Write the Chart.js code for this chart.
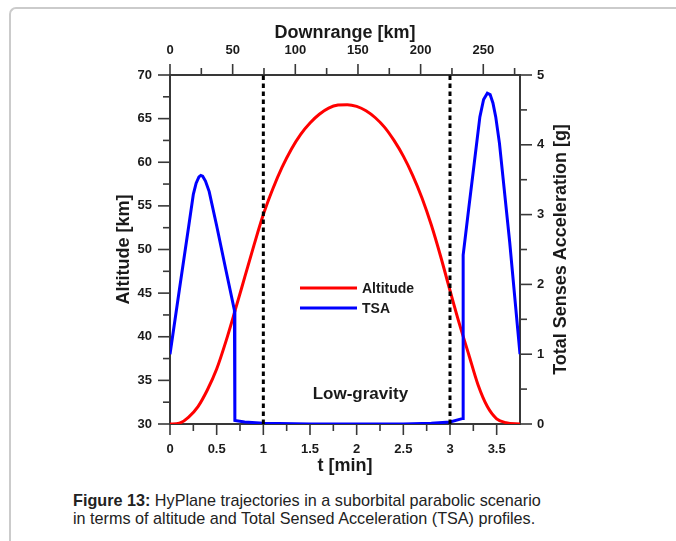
<!DOCTYPE html>
<html>
<head>
<meta charset="utf-8">
<script src="https://cdn.jsdelivr.net/npm/chart.js@4.4.0/dist/chart.umd.min.js"></script>
<style>
html, body { margin: 0; padding: 0; background: #fff; width: 676px; height: 541px; overflow: hidden; }
#frame { position: absolute; left: 9px; top: 7px; width: 720px; height: 600px; border-left: 2px solid #cbcbcb; border-top: 2px solid #cbcbcb; border-top-left-radius: 7px; }
#wrap { position: absolute; left: 0; top: 0; width: 676px; height: 480px; }
#cap { position: absolute; left: 73px; top: 492px; font: 16.2px "Liberation Sans", Arial, sans-serif; line-height: 17.5px; color: #222; white-space: nowrap; }
</style>
</head>
<body>
<div id="frame"></div>
<div id="wrap"><canvas id="chart" width="676" height="480"></canvas></div>
<div id="cap"><b>Figure 13:</b> HyPlane trajectories in a suborbital parabolic scenario<br>in terms of altitude and Total Sensed Acceleration (TSA) profiles.</div>
<script>
// altitude profile, t [min] vs km
const altT  = [0, 0.1, 0.2, 0.3, 0.4, 0.5, 0.6, 0.7, 0.8, 0.9, 1.0, 1.1, 1.2, 1.3, 1.4, 1.5, 1.6, 1.7, 1.8, 1.9,
               2.0, 2.1, 2.2, 2.3, 2.4, 2.5, 2.6, 2.7, 2.8, 2.9, 3.0, 3.1, 3.2, 3.3, 3.4, 3.5, 3.6, 3.75];
const altKm = [30, 30.1, 30.8, 32.0, 33.9, 36.3, 39.5, 43.1, 46.8, 50.5, 54.0, 56.9, 59.4, 61.5, 63.2, 64.5, 65.5, 66.2, 66.55, 66.6,
               66.4, 65.9, 65.1, 64.0, 62.5, 60.7, 58.5, 55.9, 52.8, 49.2, 45.3, 41.5, 38.0, 34.5, 32.0, 30.6, 30.15, 30.0];

// total sensed acceleration, t [min] vs g
const tsaT = [0, 0.1, 0.2, 0.25, 0.28, 0.31, 0.33, 0.35, 0.38, 0.42, 0.5, 0.6, 0.69, 0.695, 0.8, 1.0, 1.5, 2.0, 2.5, 2.8, 3.0,
              3.14, 3.141, 3.2, 3.26, 3.32, 3.36, 3.40, 3.43, 3.46, 3.49, 3.53, 3.64, 3.75];
const tsaG = [1.0, 1.92, 2.83, 3.29, 3.45, 3.54, 3.56, 3.55, 3.48, 3.33, 2.84, 2.2, 1.63, 0.05, 0.03, 0.01, 0.0, 0.0, 0.0, 0.01, 0.03,
              0.08, 2.42, 3.08, 3.74, 4.40, 4.65, 4.74, 4.72, 4.6, 4.4, 4.02, 2.6, 1.0];

// low-gravity window limits [min]
const markT = [1, 3];

const timeTicks  = [0, 0.5, 1, 1.5, 2, 2.5, 3, 3.5];
const rangeTicks = [0, 50, 100, 150, 200, 250];
const altTicks   = [30, 35, 40, 45, 50, 55, 60, 65, 70];
const tsaTicks   = [0, 1, 2, 3, 4, 5];

const axisCol = '#383838';
const textCol = '#1a1a1a';
const FF = '"Liberation Sans", Arial, sans-serif';

function pts(xs, ys) { return xs.map((x, i) => ({ x: x, y: ys[i] })); }
function useTicks(list) { return (s) => { s.ticks = list.map(v => ({ value: v })); }; }
const plain = (v) => String(v);

const tickFont = { family: FF, size: 13, weight: 'bold' };
const titleFont = { family: FF, size: 18, weight: 'bold' };
const gridOpt = { drawOnChartArea: false, drawTicks: true, tickLength: 12, tickColor: 'rgba(0,0,0,0)' };
const borderOpt = { color: axisCol, width: 2 };

const overlay = {
  id: 'overlay',
  afterDraw(chart) {
    const ctx = chart.ctx, a = chart.chartArea, sc = chart.scales;
    ctx.save();
    // tick marks, major and minor
    ctx.strokeStyle = axisCol;
    ctx.lineWidth = 1.6;
    function minors(list, max) {
      const out = [];
      for (let i = 0; i < list.length; i++) {
        const step = i + 1 < list.length ? list[i + 1] - list[i] : list[i] - list[i - 1];
        const m = list[i] + step / 2;
        if (m <= max) out.push(m);
      }
      return out;
    }
    function marks(scale, list, len) {
      list.forEach(v => {
        const p = scale.getPixelForValue(v);
        ctx.beginPath();
        if (scale.position === 'bottom') { ctx.moveTo(p, a.bottom); ctx.lineTo(p, a.bottom + len); }
        if (scale.position === 'top') { ctx.moveTo(p, a.top); ctx.lineTo(p, a.top - len); }
        if (scale.position === 'left') { ctx.moveTo(a.left, p); ctx.lineTo(a.left - len, p); }
        if (scale.position === 'right') { ctx.moveTo(a.right, p); ctx.lineTo(a.right + len, p); }
        ctx.stroke();
      });
    }
    marks(sc.x, timeTicks, 11); marks(sc.x, minors(timeTicks, 3.7), 7);
    marks(sc.x2, rangeTicks, 11); marks(sc.x2, minors(rangeTicks, 279), 7);
    marks(sc.y, altTicks, 12); marks(sc.y, minors(altTicks, 70), 7);
    marks(sc.y2, tsaTicks, 12); marks(sc.y2, minors(tsaTicks, 5), 7);

    // right axis title, read bottom to top
    ctx.fillStyle = textCol;
    ctx.font = 'bold 18px ' + FF;
    ctx.textAlign = 'center';
    ctx.textBaseline = 'middle';
    ctx.translate(561, (a.top + a.bottom) / 2);
    ctx.rotate(-Math.PI / 2);
    ctx.fillText('Total Senses Acceleration [g]', 0, 0);
    ctx.setTransform(1, 0, 0, 1, 0, 0);

    // window label
    ctx.font = 'bold 17px ' + FF;
    ctx.fillText('Low-gravity', sc.x.getPixelForValue(2.04), sc.y.getPixelForValue(33.4));

    // legend
    const items = [['Altitude', '#ff0000'], ['TSA', '#0000ff']];
    ctx.font = 'bold 14px ' + FF;
    ctx.textAlign = 'left';
    items.forEach((it, i) => {
      const y = 288 + i * 20;
      ctx.strokeStyle = it[1];
      ctx.lineWidth = 3;
      ctx.beginPath(); ctx.moveTo(300, y); ctx.lineTo(357, y); ctx.stroke();
      ctx.fillStyle = textCol;
      ctx.fillText(it[0], 362, y + 1);
    });
    ctx.restore();
  }
};

new Chart(document.getElementById('chart'), {
  type: 'line',
  data: {
    datasets: [
      { label: 'mark1', data: [{ x: markT[0], y: 30 }, { x: markT[0], y: 70 }], borderColor: '#000', borderWidth: 3,
        borderDash: [4.5, 3.5], pointRadius: 0, order: 0 },
      { label: 'mark2', data: [{ x: markT[1], y: 30 }, { x: markT[1], y: 70 }], borderColor: '#000', borderWidth: 3,
        borderDash: [4.5, 3.5], pointRadius: 0, order: 0 },
      { label: 'TSA', data: pts(tsaT, tsaG), yAxisID: 'y2', borderColor: '#0000ff', borderWidth: 3,
        pointRadius: 0, tension: 0, order: 1 },
      { label: 'Altitude', data: pts(altT, altKm), yAxisID: 'y', borderColor: '#ff0000', borderWidth: 3,
        pointRadius: 0, cubicInterpolationMode: 'monotone', order: 2 }
    ]
  },
  options: {
    responsive: false,
    animation: false,
    devicePixelRatio: 1,
    layout: { padding: { left: 113.2, right: 96, top: 22.2, bottom: 3.2 } },
    plugins: { legend: { display: false }, tooltip: { enabled: false } },
    scales: {
      x: {
        type: 'linear', position: 'bottom', min: 0, max: 3.75,
        afterBuildTicks: useTicks(timeTicks),
        afterFit: (s) => { s.height = 52.8; },
        grid: gridOpt, border: borderOpt,
        ticks: { font: tickFont, color: textCol, padding: 6, maxRotation: 0, autoSkip: false, callback: plain },
        title: { display: true, text: 't [min]', font: titleFont, color: textCol, padding: 0 }
      },
      x2: {
        type: 'linear', position: 'top', min: 0, max: 279.3,
        afterBuildTicks: useTicks(rangeTicks),
        afterFit: (s) => { s.height = 52.8; },
        grid: gridOpt, border: borderOpt,
        ticks: { font: tickFont, color: textCol, padding: 5, maxRotation: 0, autoSkip: false, callback: plain },
        title: { display: true, text: 'Downrange [km]', font: titleFont, color: textCol, padding: 0 }
      },
      y: {
        type: 'linear', position: 'left', min: 30, max: 70,
        afterBuildTicks: useTicks(altTicks),
        afterFit: (s) => { s.width = 56.8; },
        grid: gridOpt, border: borderOpt,
        ticks: { font: tickFont, color: textCol, padding: 6, autoSkip: false, callback: plain },
        title: { display: true, text: 'Altitude [km]', font: titleFont, color: textCol, padding: 0 }
      },
      y2: {
        type: 'linear', position: 'right', min: 0, max: 5,
        afterBuildTicks: useTicks(tsaTicks),
        afterFit: (s) => { s.width = 60; },
        grid: gridOpt, border: borderOpt,
        ticks: { font: tickFont, color: textCol, padding: 5, autoSkip: false, callback: plain }
      }
    }
  },
  plugins: [overlay]
});
</script>
</body>
</html>
